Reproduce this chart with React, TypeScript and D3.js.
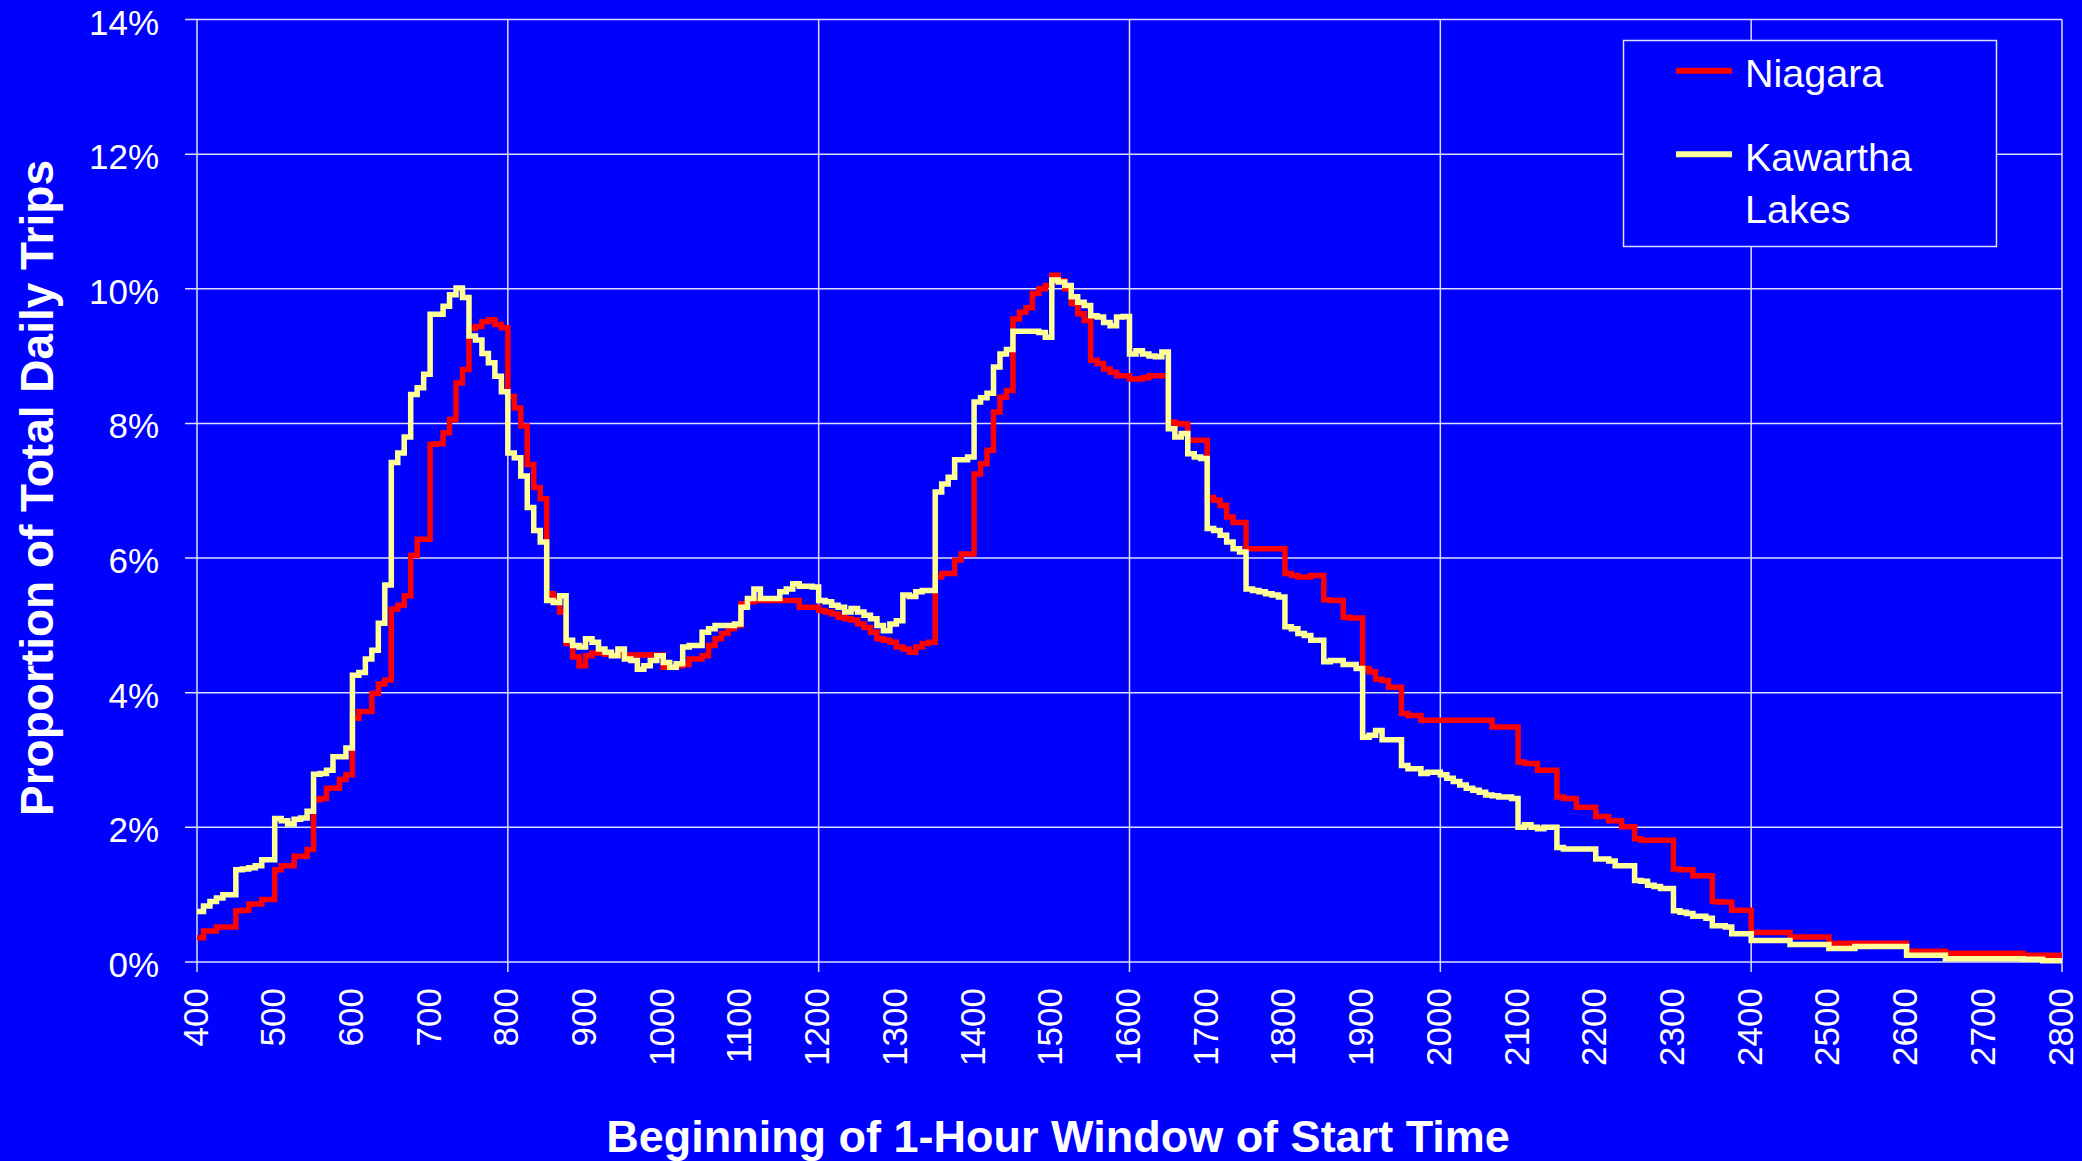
import React, { useEffect } from 'react';
import * as d3 from 'd3';

// ---- data ----
// x categories: beginning of the 1-hour window (clock time, HHMM)
const hourLabels: number[] = [400, 500, 600, 700, 800, 900, 1000, 1100, 1200, 1300, 1400, 1500, 1600, 1700, 1800, 1900, 2000, 2100, 2200, 2300, 2400, 2500, 2600, 2700, 2800];
const gridHours: number[] = [400, 800, 1200, 1600, 2000, 2400, 2800];
const pctTicks: number[] = [0, 2, 4, 6, 8, 10, 12, 14];
const seriesNames: string[] = ['Niagara', 'Kawartha Lakes'];
const seriesColors: string[] = ['#FF0000', '#FFFF99'];

// step series: [5-minute slot index from 4:00, proportion of daily trips in %]
const niagaraSteps: [number, number][] = [
  [0, 0.36], [1, 0.46], [3, 0.52], [6, 0.76], [7, 0.77], [8, 0.86], [10, 0.93], [12, 1.37], [13, 1.43], [15, 1.57],
  [17, 1.67], [18, 2.41], [19, 2.43], [20, 2.58], [22, 2.71], [23, 2.78], [24, 3.62], [25, 3.72], [27, 3.99], [28, 4.13],
  [29, 4.19], [30, 5.24], [31, 5.3], [32, 5.44], [33, 6.04], [34, 6.28], [36, 7.69], [37, 7.7], [38, 7.86], [39, 8.06],
  [40, 8.6], [41, 8.8], [42, 9.41], [43, 9.44], [44, 9.51], [45, 9.54], [46, 9.47], [47, 9.42], [48, 8.4], [49, 8.23],
  [50, 7.96], [51, 7.39], [52, 7.05], [53, 6.88], [54, 5.47], [55, 5.4], [56, 5.2], [57, 4.73], [58, 4.53], [59, 4.4],
  [60, 4.55], [61, 4.59], [63, 4.57], [64, 4.56], [72, 4.38], [74, 4.4], [75, 4.42], [76, 4.5], [78, 4.55], [79, 4.7],
  [80, 4.8], [81, 4.88], [82, 4.95], [83, 5.0], [84, 5.32], [85, 5.35], [86, 5.37], [93, 5.27], [96, 5.22], [97, 5.2],
  [98, 5.17], [99, 5.12], [100, 5.1], [101, 5.08], [102, 5.02], [103, 4.97], [104, 4.9], [105, 4.8], [106, 4.78], [107, 4.75],
  [108, 4.68], [109, 4.65], [110, 4.6], [111, 4.68], [112, 4.73], [113, 4.75], [114, 5.72], [115, 5.77], [117, 5.97], [118, 6.06],
  [120, 7.25], [121, 7.4], [122, 7.6], [123, 8.17], [124, 8.39], [125, 8.49], [126, 9.55], [127, 9.65], [128, 9.72], [129, 9.93],
  [130, 10.0], [131, 10.05], [132, 10.2], [133, 10.12], [134, 10.0], [135, 9.78], [136, 9.63], [137, 9.53], [138, 8.94], [139, 8.89],
  [140, 8.81], [141, 8.76], [142, 8.71], [144, 8.66], [146, 8.68], [147, 8.71], [150, 8.02], [151, 8.0], [152, 7.99], [153, 7.75],
  [156, 6.9], [157, 6.86], [158, 6.78], [159, 6.61], [160, 6.53], [162, 6.14], [168, 5.77], [169, 5.74], [170, 5.72], [172, 5.74],
  [174, 5.38], [175, 5.37], [177, 5.12], [178, 5.11], [180, 4.36], [181, 4.31], [182, 4.2], [183, 4.18], [184, 4.08], [186, 3.69],
  [187, 3.66], [189, 3.59], [200, 3.49], [204, 2.97], [205, 2.95], [207, 2.85], [210, 2.45], [211, 2.43], [213, 2.3], [216, 2.16],
  [218, 2.1], [220, 2.01], [222, 1.83], [223, 1.81], [228, 1.38], [229, 1.37], [231, 1.28], [234, 0.9], [235, 0.89], [237, 0.77],
  [240, 0.44], [246, 0.37], [252, 0.28], [264, 0.16], [270, 0.13], [282, 0.1],
];

const kawarthaSteps: [number, number][] = [
  [0, 0.75], [1, 0.83], [2, 0.9], [3, 0.95], [4, 1.0], [6, 1.37], [7, 1.38], [8, 1.4], [9, 1.43], [10, 1.52],
  [12, 2.13], [13, 2.1], [14, 2.05], [15, 2.12], [16, 2.14], [17, 2.24], [18, 2.79], [19, 2.8], [20, 2.85], [21, 3.05],
  [23, 3.18], [24, 4.26], [25, 4.3], [26, 4.5], [27, 4.63], [28, 5.03], [29, 5.6], [30, 7.42], [31, 7.56], [32, 7.8],
  [33, 8.43], [34, 8.53], [35, 8.73], [36, 9.62], [38, 9.74], [39, 9.91], [40, 10.01], [41, 9.87], [42, 9.3], [43, 9.24],
  [44, 9.04], [45, 8.9], [46, 8.7], [47, 8.47], [48, 7.56], [49, 7.49], [50, 7.22], [51, 6.75], [52, 6.41], [53, 6.24],
  [54, 5.37], [55, 5.34], [56, 5.44], [57, 4.78], [58, 4.7], [59, 4.68], [60, 4.8], [61, 4.75], [62, 4.65], [63, 4.6],
  [64, 4.55], [65, 4.65], [66, 4.5], [67, 4.48], [68, 4.35], [69, 4.4], [70, 4.48], [71, 4.55], [72, 4.45], [73, 4.38],
  [74, 4.43], [75, 4.68], [76, 4.7], [78, 4.9], [79, 4.95], [80, 5.0], [83, 5.02], [84, 5.27], [85, 5.4], [86, 5.54],
  [87, 5.4], [90, 5.5], [91, 5.54], [92, 5.62], [93, 5.58], [95, 5.57], [96, 5.37], [97, 5.35], [98, 5.3], [99, 5.27],
  [100, 5.2], [101, 5.25], [102, 5.2], [103, 5.15], [104, 5.1], [105, 5.0], [106, 4.92], [107, 5.02], [108, 5.07], [109, 5.45],
  [110, 5.43], [111, 5.5], [112, 5.52], [114, 6.98], [115, 7.1], [116, 7.2], [117, 7.46], [119, 7.5], [120, 8.32], [121, 8.38],
  [122, 8.45], [123, 8.84], [124, 9.03], [125, 9.1], [126, 9.37], [130, 9.35], [131, 9.28], [132, 10.13], [133, 10.1], [134, 10.05],
  [135, 9.88], [136, 9.8], [137, 9.75], [138, 9.6], [139, 9.58], [140, 9.5], [141, 9.45], [142, 9.58], [143, 9.59], [144, 9.03],
  [145, 9.08], [146, 9.03], [147, 9.0], [148, 8.99], [149, 9.06], [150, 7.92], [151, 7.8], [152, 7.85], [153, 7.55], [154, 7.5],
  [155, 7.48], [156, 6.44], [157, 6.41], [158, 6.34], [159, 6.24], [160, 6.14], [161, 6.09], [162, 5.54], [163, 5.52], [164, 5.5],
  [165, 5.47], [166, 5.45], [167, 5.42], [168, 4.98], [169, 4.95], [170, 4.88], [171, 4.85], [172, 4.78], [174, 4.46], [175, 4.48],
  [177, 4.42], [179, 4.36], [180, 3.34], [181, 3.37], [182, 3.44], [183, 3.3], [186, 2.92], [187, 2.87], [189, 2.8], [190, 2.82],
  [192, 2.78], [193, 2.73], [194, 2.68], [195, 2.63], [196, 2.58], [197, 2.55], [198, 2.52], [199, 2.48], [200, 2.47], [201, 2.45],
  [203, 2.43], [204, 2.0], [205, 2.04], [206, 2.0], [207, 1.98], [208, 2.0], [210, 1.7], [211, 1.68], [216, 1.53], [218, 1.5],
  [219, 1.43], [222, 1.21], [223, 1.2], [224, 1.14], [225, 1.12], [226, 1.09], [228, 0.76], [229, 0.74], [230, 0.72], [231, 0.68],
  [233, 0.65], [234, 0.54], [236, 0.52], [237, 0.42], [240, 0.32], [246, 0.26], [252, 0.2], [256, 0.23], [264, 0.1], [270, 0.05],
  [282, 0.04], [285, 0.02],
];

const SLOT_MIN = 5;
const TOTAL_SLOTS = 288;

// ---- layout ----
const W = 2082;
const H = 1161;
const PL = 197;
const PR = 2062;
const PT = 19.5;
const PB = 962;
const FONT = 'Arial, "Liberation Sans", Helvetica, sans-serif';
const BG = '#0000FF';
const GRID = '#DCDCFF';

const clockToMin = (c: number) => (Math.floor(c / 100) - 4) * 60 + (c % 100);

export default function App() {
  useEffect(() => {
    document.body.style.margin = '0';
  }, []);

  const x = d3.scaleLinear().domain([0, TOTAL_SLOTS * SLOT_MIN]).range([PL, PR]);
  const y = d3.scaleLinear().domain([0, 14]).range([PB, PT]);

  const line = d3
    .line<[number, number]>()
    .x((d) => x(d[0] * SLOT_MIN))
    .y((d) => y(d[1]))
    .curve(d3.curveStepAfter);

  const withEnd = (s: [number, number][]): [number, number][] => [...s, [TOTAL_SLOTS, s[s.length - 1][1]]];
  const series = [niagaraSteps, kawarthaSteps];

  return (
    <svg width={W} height={H} style={{ display: 'block', position: 'absolute', left: 0, top: 0 }} fontFamily={FONT}>
      <rect x={0} y={0} width={W} height={H} fill={BG} />

      {/* horizontal grid + y ticks */}
      {pctTicks.map((p) => (
        <line key={'h' + p} x1={185} x2={PR} y1={y(p)} y2={y(p)} stroke={GRID} strokeWidth={1.5} />
      ))}
      {/* vertical grid + x ticks */}
      {gridHours.map((c) => (
        <line key={'v' + c} x1={x(clockToMin(c))} x2={x(clockToMin(c))} y1={PT} y2={972} stroke={GRID} strokeWidth={1.5} />
      ))}

      {/* y tick labels */}
      {pctTicks.map((p) => (
        <text key={'yl' + p} x={159} y={y(p) + 15} fill="#FFFFFF" fontSize={35} textAnchor="end">
          {p}%
        </text>
      ))}

      {/* x tick labels */}
      {hourLabels.map((c) => {
        const xx = x(clockToMin(c)) + 10.5;
        return (
          <text key={'xl' + c} x={xx} y={988} transform={`rotate(-90 ${xx} 988)`} fill="#FFFFFF" fontSize={35} textAnchor="end">
            {c}
          </text>
        );
      })}

      {/* series */}
      {series.map((s, i) => (
        <path
          key={'s' + i}
          d={line(withEnd(s)) || ''}
          fill="none"
          stroke={seriesColors[i]}
          strokeWidth={5.5}
          strokeLinejoin="miter"
          strokeLinecap="butt"
        />
      ))}

      {/* legend */}
      <rect x={1623.5} y={40.5} width={373} height={206} fill={BG} stroke={GRID} strokeWidth={1.5} />
      <line x1={1676} x2={1732} y1={70.7} y2={70.7} stroke={seriesColors[0]} strokeWidth={6} />
      <text x={1745} y={86.7} fill="#FFFFFF" fontSize={39.5}>
        {seriesNames[0]}
      </text>
      <line x1={1676} x2={1732} y1={154.3} y2={154.3} stroke={seriesColors[1]} strokeWidth={6} />
      <text x={1745} y={170.7} fill="#FFFFFF" fontSize={39.5}>
        {seriesNames[1].split(' ')[0]}
      </text>
      <text x={1745} y={222.7} fill="#FFFFFF" fontSize={39.5}>
        {seriesNames[1].split(' ')[1]}
      </text>

      {/* axis titles */}
      <text x={1058} y={1152} fill="#FFFFFF" fontSize={45} fontWeight="bold" textAnchor="middle">
        Beginning of 1-Hour Window of Start Time
      </text>
      <text
        x={53}
        y={488}
        transform="rotate(-90 53 488)"
        fill="#FFFFFF"
        fontSize={46}
        fontWeight="bold"
        textAnchor="middle"
      >
        Proportion of Total Daily Trips
      </text>
    </svg>
  );
}
